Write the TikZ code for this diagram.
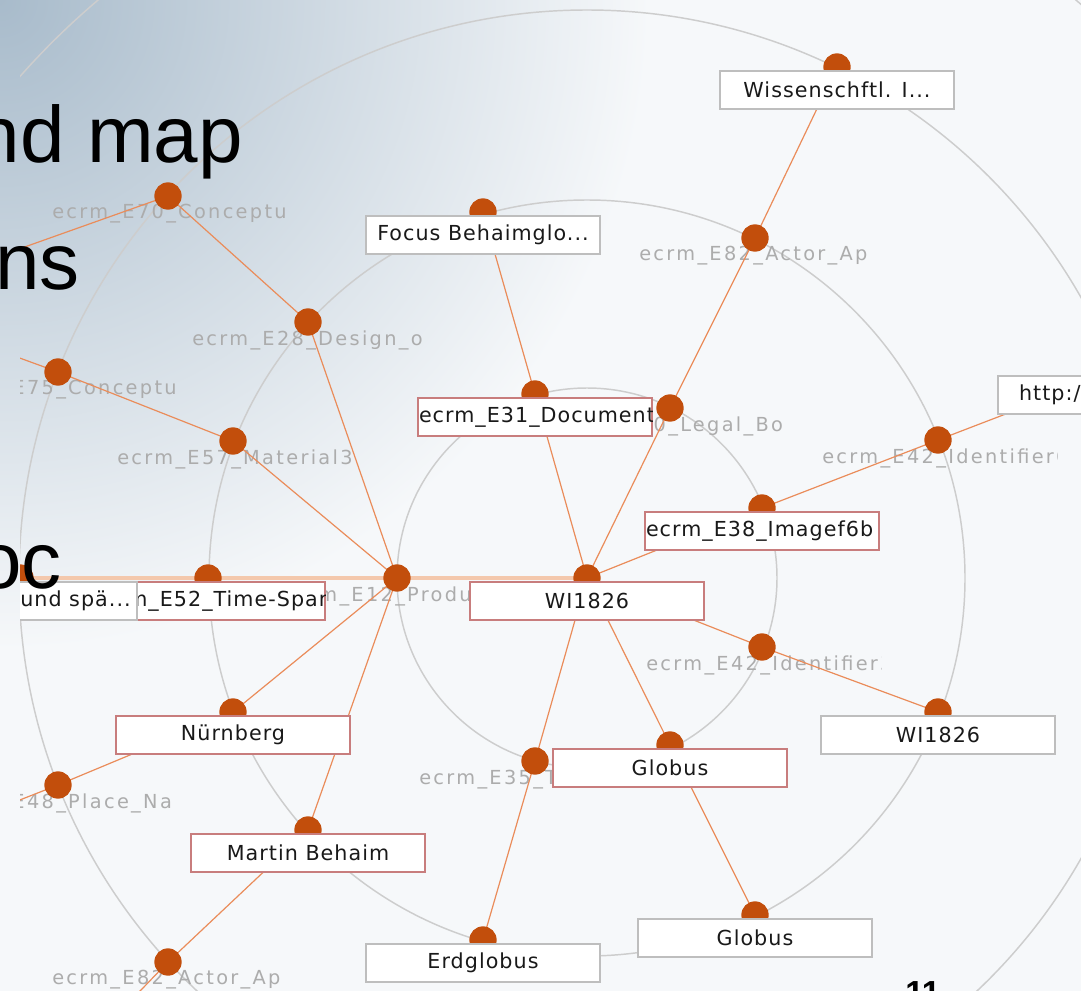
\documentclass[tikz,border=0pt]{standalone}
\usepackage{fontspec}
\setmainfont{Liberation Sans}
\newfontfamily\boxfont[LetterSpace=5]{DejaVu Sans}
\newfontfamily\labfont[LetterSpace=12]{DejaVu Sans}
\definecolor{bgc}{RGB}{246,248,250}
\definecolor{shc}{RGB}{168,187,203}
\definecolor{ringc}{RGB}{205,205,205}
\definecolor{edgec}{RGB}{234,140,90}
\definecolor{hlc}{RGB}{244,200,172}
\definecolor{dotc}{RGB}{194,78,12}
\definecolor{rboxc}{RGB}{200,125,125}
\definecolor{gboxc}{RGB}{190,190,190}
\definecolor{labc}{RGB}{172,172,172}
\newcommand\glab[3]{\begin{scope}\clip ([shift={(-116,4)}]#1) rectangle ([shift={(119,34)}]#1);
  \node[glab,anchor=west] (#2) at ([shift={(-116,18)}]#1) {#3};\end{scope}}
\newcommand\cliptxt[3]{\begin{scope}\clip (#1.south west) rectangle (#1.north east);
  \node[btext,anchor=west] (#2) at ([xshift=1pt]#1.west) {#3};\end{scope}}
\begin{document}
\begin{tikzpicture}[x=0.75pt,y=-0.75pt,
  dot/.style={circle,fill=dotc,draw=none,minimum size=20.5pt,inner sep=0pt},
  gbox/.style={rectangle,draw=gboxc,fill=white,line width=0.9pt,minimum width=175.5pt,minimum height=28.5pt,inner sep=0pt,font=\boxfont\fontsize{15.5}{17}\selectfont,text=black!90},
  rbox/.style={gbox,draw=rboxc},
  btext/.style={inner sep=0pt,font=\boxfont\fontsize{15.5}{17}\selectfont,text=black!90},
  glab/.style={inner sep=0pt,font=\labfont\fontsize{14.5}{16}\selectfont,text=labc},
  edge/.style={draw=edgec,line width=0.9pt},
  ring/.style={draw=ringc,line width=1.1pt},
  hl/.style={draw=hlc,line width=3pt},
  slide/.style={inner sep=0pt,font=\fontsize{60}{70}\selectfont,text=black}]
\useasboundingbox (0,0) rectangle (1081,991);
\clip (0,0) rectangle (1081,991);
% background
\fill[bgc] (0,0) rectangle (1081,991);
\shade[inner color=shc,outer color=bgc] (0,0) circle (650);
% graph viewport
\begin{scope}
\clip (20,0) rectangle (1081,991);
\coordinate (pC) at (587,578);
\coordinate (pE12) at (397,578);
\coordinate (pE31) at (535,394);
\coordinate (pLegal) at (670,408);
\coordinate (pE38) at (762,508);
\coordinate (pE42b) at (762,647);
\coordinate (pGlob1) at (670,745);
\coordinate (pE35) at (535,761);
\coordinate (pE28) at (308,322);
\coordinate (pE57) at (233,441);
\coordinate (pE52) at (208,578);
\coordinate (pNur) at (233,712);
\coordinate (pMartin) at (308,830);
\coordinate (pFocus) at (483,212);
\coordinate (pE82t) at (755,238);
\coordinate (pE42a) at (938,440);
\coordinate (pWI2) at (938,712);
\coordinate (pGlob2) at (755,915);
\coordinate (pErd) at (483,940);
\coordinate (pE70) at (168,196);
\coordinate (pE75) at (58,372);
\coordinate (pUnd) at (20,578);
\coordinate (pE48) at (58,785);
\coordinate (pE82b) at (168,962);
\coordinate (pWiss) at (837,67);
\coordinate (pHttp) at (1115,372);
\coordinate (pX70) at (-116,297);
\coordinate (pX75) at (-120,307);
\coordinate (pX48) at (-118,854);
\coordinate (pX82) at (37,1098);
% rings
\draw[ring] (pC) circle (190);
\draw[ring] (pC) circle (378);
\draw[ring] (pC) circle (568);
\draw[ring] (pC) circle (757);
% gray labels
\glab{pE70}{lE70}{ecrm\_E70\_Conceptu}
\glab{pE28}{lE28}{ecrm\_E28\_Design\_o}
\glab{pE75}{lE75}{ecrm\_E75\_Conceptu}
\glab{pE57}{lE57}{ecrm\_E57\_Material3}
\glab{pE12}{lE12}{ecrm\_E12\_Produ}
\glab{pE48}{lE48}{ecrm\_E48\_Place\_Na}
\glab{pE82b}{lE82b}{ecrm\_E82\_Actor\_Ap}
\glab{pE82t}{lE82t}{ecrm\_E82\_Actor\_Ap}
\glab{pLegal}{lLegal}{ecrm\_E40\_Legal\_Bo}
\glab{pE42a}{lE42a}{ecrm\_E42\_Identifier6}
\glab{pE42b}{lE42b}{ecrm\_E42\_Identifier3}
\glab{pE35}{lE35}{ecrm\_E35\_Title}
% edges
\draw[hl] (pUnd) -- (pE52) -- (pE12) -- (pC);
\draw[edge] (pC) -- (pE31);
\draw[edge] (pC) -- (pLegal);
\draw[edge] (pC) -- (pE38);
\draw[edge] (pC) -- (pE42b);
\draw[edge] (pC) -- (pGlob1);
\draw[edge] (pC) -- (pE35);
\draw[edge] (pE12) -- (pE28);
\draw[edge] (pE12) -- (pE57);
\draw[edge] (pE12) -- (pNur);
\draw[edge] (pE12) -- (pMartin);
\draw[edge] (pE28) -- (pE70);
\draw[edge] (pE70) -- (pX70);
\draw[edge] (pE57) -- (pE75);
\draw[edge] (pE75) -- (pX75);
\draw[edge] (pNur) -- (pE48);
\draw[edge] (pE48) -- (pX48);
\draw[edge] (pMartin) -- (pE82b);
\draw[edge] (pE82b) -- (pX82);
\draw[edge] (pE31) -- (pFocus);
\draw[edge] (pLegal) -- (pE82t);
\draw[edge] (pE82t) -- (pWiss);
\draw[edge] (pE38) -- (pE42a);
\draw[edge] (pE42a) -- (pHttp);
\draw[edge] (pE42b) -- (pWI2);
\draw[edge] (pGlob1) -- (pGlob2);
\draw[edge] (pE35) -- (pErd);
% dots
\foreach \n in {C,E12,E31,Legal,E38,E42b,Glob1,E35,E28,E57,E52,Nur,Martin,Focus,E82t,E42a,WI2,Glob2,Erd,E70,E75,Und,E48,E82b,Wiss,Http}
  \node[dot] (d\n) at (p\n) {};
% boxes
\node[gbox] (bWiss) at ([shift={(0,23)}]pWiss) {Wissenschftl. I...};
\node[gbox] (bFocus) at ([shift={(0,23)}]pFocus) {Focus Behaimglo...};
\node[rbox] (bE31) at ([shift={(0,23)}]pE31) {};
\cliptxt{bE31}{tE31}{ecrm\_E31\_Document}
\node[rbox] (bE38) at ([shift={(0,23)}]pE38) {};
\cliptxt{bE38}{tE38}{ecrm\_E38\_Imagef6b}
\node[rbox] (bWI) at ([shift={(0,23)}]pC) {WI1826};
\node[rbox] (bE52) at ([shift={(0,23)}]pE52) {};
\cliptxt{bE52}{tE52}{ecrm\_E52\_Time-Span}
\node[gbox] (bUnd) at ([shift={(0,23)}]pUnd) {};
\node[btext,anchor=east] (tUnd) at ([xshift=-5pt]bUnd.east) {und spä...};
\node[rbox] (bNur) at ([shift={(0,23)}]pNur) {Nürnberg};
\node[rbox] (bMartin) at ([shift={(0,23)}]pMartin) {Martin Behaim};
\node[rbox] (bGlob1) at ([shift={(0,23)}]pGlob1) {Globus};
\node[gbox] (bGlob2) at ([shift={(0,23)}]pGlob2) {Globus};
\node[gbox] (bErd) at ([shift={(0,23)}]pErd) {Erdglobus};
\node[gbox] (bWI2) at ([shift={(0,23)}]pWI2) {WI1826};
\node[gbox] (bHttp) at ([shift={(0,23)}]pHttp) {};
\node[btext,anchor=west] (tHttp) at ([xshift=16pt]bHttp.west) {http://};
\end{scope}
% slide text
\node[slide,anchor=base east] (t1) at (243,163) {nd map};
\node[slide,anchor=base east] (t2) at (80,290) {ns};
\node[slide,anchor=base east] (t3) at (62,588) {oc};
\node[inner sep=0pt,anchor=base west,font=\bfseries\fontsize{25}{30}\selectfont] (pg) at (905,1004) {11};
\end{tikzpicture}
\end{document}
